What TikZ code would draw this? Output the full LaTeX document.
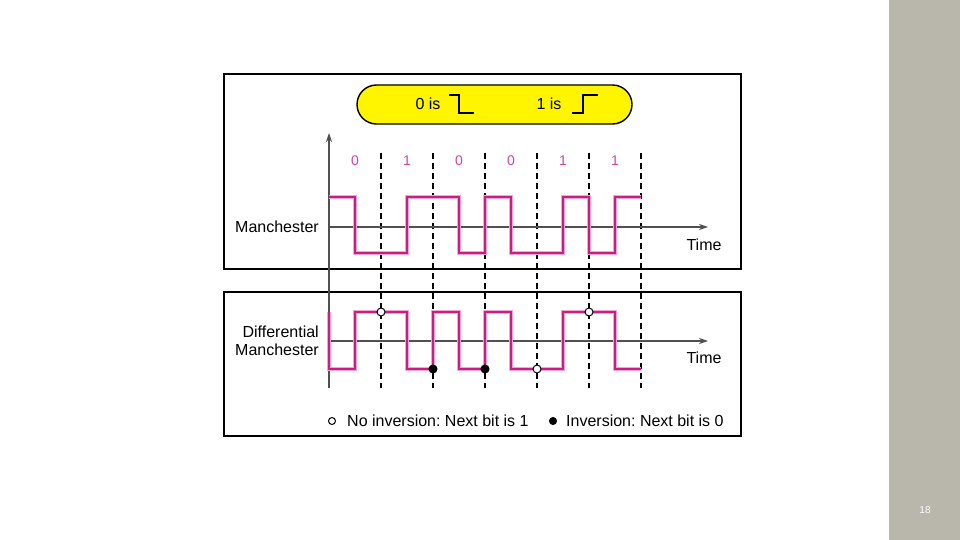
\documentclass[tikz,border=0pt]{standalone}
\usepackage{fontspec}
\setmainfont{Liberation Sans}
\usetikzlibrary{arrows.meta}
\frenchspacing
\definecolor{sidegray}{RGB}{185,182,172}
\definecolor{sigcore}{RGB}{200,30,130}
\definecolor{sighalo}{RGB}{245,165,210}
\definecolor{bitpink}{RGB}{205,70,165}
\definecolor{pillyellow}{RGB}{255,245,0}
\definecolor{axisgray}{RGB}{80,80,80}
\tikzset{
  panel/.style={draw=black, line width=1.4pt, fill=white},
  halo/.style={draw=sighalo, line width=4.5pt, line join=miter},
  core/.style={draw=sigcore, line width=2.2pt, line join=miter},
  axisline/.style={draw=axisgray, line width=1.2pt},
  timearrow/.style={axisline, -{Stealth[length=9pt,width=6pt]}},
  bitsep/.style={draw=black, line width=1.1pt, dash pattern=on 6pt off 4pt},
  lbl/.style={font=\fontsize{16}{18.5}\selectfont, inner sep=0pt},
  bitlbl/.style={font=\fontsize{14}{16}\selectfont, text=bitpink, inner sep=0pt},
  opendot/.style={circle, draw=black, fill=white, line width=1pt, minimum size=8pt, inner sep=0pt},
  filldot/.style={circle, draw=black, fill=black, line width=1pt, minimum size=8pt, inner sep=0pt},
  stepsym/.style={draw=black, line width=2.6pt}
}
\begin{document}
\begin{tikzpicture}[x=1pt,y=-1pt]
\useasboundingbox (0,0) rectangle (960,540);
\fill[white] (0,0) rectangle (960,540);
% side bar
\fill[sidegray] (889,0) rectangle (960,540);
\node[font=\fontsize{10}{11}\selectfont, text=white] (pagenum) at (925,510) {18};
% panels
\draw[panel] (224,74) rectangle (741,269);
\draw[panel] (224,292) rectangle (741,436);
% pill
\node[draw=black, line width=1.4pt, fill=pillyellow, rounded corners=19.5pt,
      minimum width=275pt, minimum height=39pt, inner sep=0pt] (pill) at (494.5,104.5) {};
\node[lbl] (zerois) at (428,104) {0 is};
\draw[stepsym] (449,95) -- (459,95) -- (459,113) -- (474,113);
\node[lbl] (oneis) at (549,104) {1 is};
\draw[stepsym] (572,113) -- (583,113) -- (583,95) -- (598,95);
% vertical axis
\coordinate (vtop) at (329,133);
\coordinate (vbot) at (329,388);
\draw[axisline, -{Stealth[length=9pt,width=6pt]}] (vbot) -- (vtop);
% dashed bit separators
\foreach \x in {381,433,485,537,589,641}
  \draw[bitsep] (\x,153) -- (\x,388);
% bit labels
\foreach \x/\b [count=\i] in {355/0,407/1,459/0,511/0,563/1,615/1}
  \node[bitlbl] (bit\i) at (\x,161) {\b};
% Manchester
\coordinate (m0) at (329,227);
\coordinate (m1) at (708,227);
\draw[timearrow] (m0) -- (m1);
\node[lbl, anchor=east] (manlbl) at (319,227) {Manchester};
\node[lbl] (time1) at (704,245) {Time};
\def\manpath{(329,197) -- (355,197) -- (355,253) -- (407,253) -- (407,197) -- (459,197) -- (459,253) -- (485,253) -- (485,197) -- (511,197) -- (511,253) -- (563,253) -- (563,197) -- (589,197) -- (589,253) -- (615,253) -- (615,197) -- (641,197)}
\draw[halo] \manpath;
\draw[core] \manpath;
% Differential Manchester
\coordinate (d0) at (329,341);
\coordinate (d1) at (708,341);
\draw[timearrow] (d0) -- (d1);
\node[lbl, anchor=east, align=right] (difflbl) at (319,341) {Differential\\Manchester};
\node[lbl] (time2) at (704,358) {Time};
\def\diffpath{(329,312) -- (329,369) -- (355,369) -- (355,312) -- (407,312) -- (407,369) -- (433,369) -- (433,312) -- (459,312) -- (459,369) -- (485,369) -- (485,312) -- (511,312) -- (511,369) -- (563,369) -- (563,312) -- (615,312) -- (615,369) -- (641,369)}
\draw[halo] \diffpath;
\draw[core] \diffpath;
\node[opendot] (c1) at (381,312) {};
\node[filldot] (c2) at (433,369) {};
\node[filldot] (c3) at (485,369) {};
\node[opendot] (c4) at (537,369) {};
\node[opendot] (c5) at (589,312) {};
% legend
\node[opendot, minimum size=7pt] (legopen) at (332,421) {};
\node[lbl, anchor=west] (legtext1) at (347,421) {No inversion: Next bit is 1};
\node[filldot, minimum size=7pt] (legfill) at (553,421) {};
\node[lbl, anchor=west] (legtext2) at (566,421) {Inversion: Next bit is 0};
\end{tikzpicture}
\end{document}
